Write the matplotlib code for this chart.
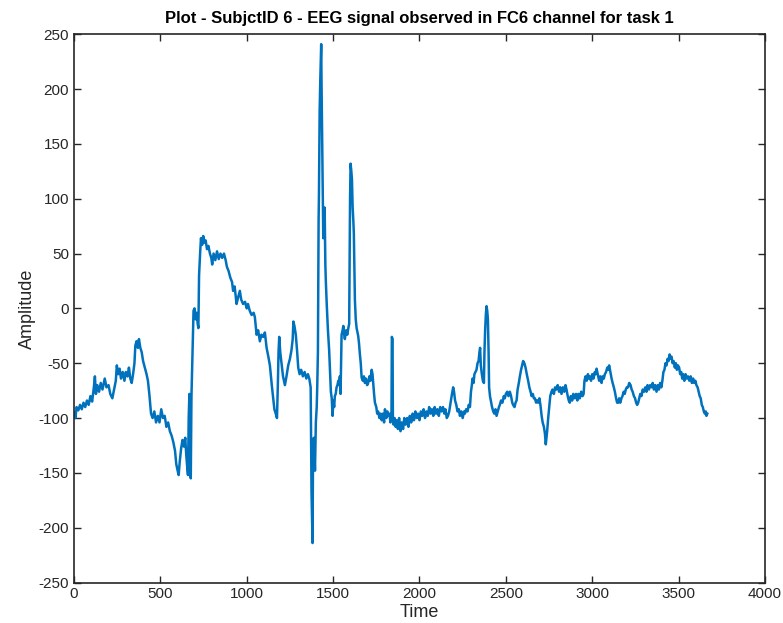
import matplotlib
matplotlib.use("Agg")
import matplotlib.pyplot as plt

plt.rcParams['font.family'] = ['Liberation Sans Narrow', 'Liberation Sans', 'DejaVu Sans']
plt.rcParams['axes.unicode_minus'] = False

# samples (FC6 channel, subject 6, task 1)
time = [
    0, 8, 15, 25, 35, 45, 55, 65, 75, 85, 95, 105, 115, 121, 127, 135, 145, 155, 165, 178,
    188, 200, 210, 222, 232, 242, 248, 256, 264, 272, 282, 292, 300, 310, 318, 326, 334, 342, 350, 355,
    362, 370, 376, 384, 392, 400, 410, 420, 428, 436, 446, 455, 465, 475, 485, 495, 505, 515, 525, 535,
    545, 555, 565, 575, 585, 592, 600, 606, 612, 620, 628, 636, 644, 650, 656, 660, 664, 668, 672, 676,
    680, 684, 688, 692, 698, 704, 710, 716, 720, 724, 730, 735, 742, 748, 755, 762, 770, 778, 787, 795,
    800, 808, 818, 828, 838, 848, 858, 868, 878, 885, 895, 905, 915, 921, 930, 941, 950, 960, 968, 979,
    990, 1000, 1007, 1017, 1028, 1040, 1047, 1057, 1066, 1076, 1085, 1095, 1105, 1115, 1125, 1134, 1145, 1153, 1160, 1168,
    1175, 1180, 1184, 1188, 1194, 1201, 1210, 1221, 1230, 1240, 1250, 1259, 1266, 1270, 1276, 1284, 1292, 1298, 1306, 1315,
    1325, 1335, 1345, 1354, 1362, 1370, 1375, 1381, 1384, 1389, 1395, 1400, 1405, 1408, 1412, 1416, 1418, 1422, 1426, 1431,
    1433, 1437, 1440, 1443, 1447, 1451, 1455, 1458, 1463, 1470, 1477, 1482, 1487, 1492, 1497, 1501, 1506, 1510, 1515, 1520,
    1525, 1530, 1535, 1539, 1543, 1547, 1549, 1555, 1559, 1564, 1568, 1575, 1582, 1588, 1593, 1598, 1601, 1605, 1609, 1613,
    1617, 1620, 1624, 1626, 1631, 1636, 1641, 1645, 1650, 1655, 1660, 1665, 1672, 1678, 1684, 1690, 1697, 1703, 1710, 1716,
    1723, 1728, 1732, 1737, 1742, 1750, 1755, 1761, 1768, 1775, 1781, 1788, 1795, 1800, 1808, 1814, 1819, 1826, 1832, 1838,
    1840, 1844, 1846, 1850, 1856, 1862, 1868, 1875, 1882, 1890, 1897, 1905, 1912, 1920, 1928, 1936, 1944, 1952, 1960, 1968,
    1976, 1984, 1992, 2000, 2008, 2016, 2024, 2032, 2040, 2048, 2056, 2064, 2072, 2080, 2088, 2096, 2104, 2112, 2120, 2128,
    2136, 2144, 2150, 2158, 2165, 2172, 2180, 2188, 2195, 2200, 2206, 2213, 2220, 2228, 2234, 2242, 2250, 2258, 2263, 2270,
    2278, 2285, 2292, 2298, 2303, 2307, 2313, 2318, 2324, 2330, 2336, 2342, 2347, 2351, 2355, 2361, 2367, 2373, 2376, 2380,
    2384, 2388, 2392, 2396, 2400, 2403, 2408, 2413, 2420, 2427, 2433, 2440, 2446, 2453, 2460, 2465, 2472, 2480, 2488, 2494,
    2500, 2508, 2515, 2523, 2530, 2537, 2542, 2550, 2556, 2562, 2568, 2575, 2581, 2588, 2594, 2600, 2607, 2614, 2621, 2629,
    2636, 2643, 2649, 2656, 2662, 2668, 2675, 2681, 2687, 2694, 2700, 2707, 2713, 2720, 2726, 2731, 2735, 2739, 2745, 2751,
    2757, 2764, 2770, 2778, 2785, 2793, 2800, 2808, 2815, 2822, 2830, 2838, 2845, 2851, 2858, 2864, 2870, 2876, 2884, 2890,
    2899, 2906, 2914, 2920, 2928, 2936, 2944, 2950, 2955, 2961, 2968, 2975, 2980, 2986, 2993, 3000, 3007, 3015, 3020, 3025,
    3032, 3040, 3047, 3054, 3060, 3067, 3073, 3080, 3087, 3092, 3098, 3105, 3112, 3118, 3125, 3131, 3138, 3144, 3150, 3156,
    3162, 3169, 3175, 3182, 3188, 3194, 3200, 3207, 3214, 3222, 3228, 3234, 3241, 3248, 3254, 3260, 3266, 3272, 3278, 3285,
    3292, 3300, 3307, 3314, 3320, 3328, 3335, 3343, 3350, 3357, 3365, 3372, 3380, 3386, 3393, 3400, 3406, 3412, 3418, 3424,
    3430, 3436, 3442, 3448, 3453, 3459, 3465, 3471, 3478, 3484, 3490, 3496, 3503, 3509, 3515, 3521, 3526, 3533, 3540, 3547,
    3555, 3562, 3570, 3577, 3584, 3590, 3597, 3603, 3610, 3616, 3622, 3628, 3634, 3640, 3646, 3652, 3657, 3661, 3666,
]

amplitude = [
    -95, -100, -90, -93, -88, -92, -86, -90, -84, -88, -80, -85, -72, -62, -78, -70, -76, -68, -74, -64,
    -72, -70, -78, -82, -74, -66, -52, -60, -55, -64, -58, -66, -58, -62, -54, -64, -68, -60, -50, -34,
    -30, -36, -28, -36, -40, -48, -54, -60, -66, -78, -96, -100, -94, -104, -98, -104, -92, -100, -98, -108,
    -104, -112, -116, -122, -130, -142, -148, -152, -140, -128, -120, -126, -118, -134, -146, -152, -100, -78, -150, -155,
    -80, -55, -30, -2, 0, -10, -4, -14, -18, 30, 50, 64, 58, 66, 60, 62, 54, 57, 50, 46,
    40, 50, 44, 52, 45, 50, 46, 50, 44, 38, 34, 28, 24, 16, 20, 4, 10, 16, 8, 4,
    6, 0, 4, -2, -6, -4, -8, -24, -20, -30, -24, -26, -22, -36, -44, -52, -70, -82, -92, -96,
    -100, -70, -40, -26, -40, -50, -62, -70, -62, -52, -46, -38, -28, -12, -16, -24, -40, -54, -60, -56,
    -62, -58, -64, -60, -64, -72, -168, -214, -120, -118, -148, -104, -90, -72, -40, 80, 104, 180, 210, 241,
    205, 150, 110, 64, 88, 92, 40, 24, 4, -20, -38, -58, -76, -82, -98, -84, -90, -80, -78, -72,
    -70, -66, -70, -62, -78, -40, -24, -20, -16, -24, -28, -20, -24, -18, -14, 100, 132, 126, 118, 92,
    80, 68, 30, 8, -10, -18, -22, -25, -32, -42, -50, -63, -66, -62, -68, -64, -70, -68, -62, -66,
    -56, -60, -68, -78, -86, -90, -96, -94, -100, -96, -102, -96, -104, -92, -100, -94, -98, -96, -104, -94,
    -26, -28, -100, -106, -100, -108, -102, -110, -100, -112, -104, -110, -100, -106, -100, -108, -98, -104, -96, -102,
    -94, -100, -96, -102, -94, -98, -92, -100, -94, -98, -90, -96, -92, -98, -90, -96, -92, -98, -90, -94,
    -90, -96, -92, -100, -98, -94, -86, -78, -72, -76, -84, -88, -94, -92, -98, -94, -100, -94, -96, -92,
    -94, -88, -90, -76, -70, -64, -68, -60, -58, -56, -50, -48, -40, -36, -52, -60, -66, -68, -40, -20,
    -6, 2, -2, -10, -40, -72, -80, -84, -90, -94, -96, -92, -98, -94, -90, -88, -84, -86, -80, -82,
    -78, -76, -80, -76, -80, -86, -88, -90, -86, -84, -74, -68, -62, -56, -52, -48, -50, -54, -60, -66,
    -72, -76, -80, -78, -82, -82, -86, -84, -86, -82, -88, -98, -104, -108, -114, -124, -118, -112, -100, -90,
    -80, -76, -74, -78, -72, -74, -70, -76, -72, -78, -72, -76, -70, -74, -80, -84, -86, -80, -84, -78,
    -82, -78, -84, -78, -82, -76, -80, -78, -66, -62, -66, -60, -64, -62, -66, -60, -64, -58, -60, -55,
    -60, -66, -62, -68, -62, -64, -60, -58, -54, -56, -52, -58, -64, -68, -72, -76, -82, -86, -86, -82,
    -86, -82, -80, -76, -78, -74, -72, -72, -68, -70, -74, -76, -80, -82, -86, -88, -86, -82, -78, -80,
    -74, -76, -72, -76, -70, -74, -70, -72, -68, -74, -70, -76, -70, -74, -68, -72, -66, -58, -56, -50,
    -52, -46, -48, -42, -46, -44, -50, -48, -54, -50, -56, -52, -54, -60, -58, -64, -60, -66, -60, -64,
    -62, -66, -62, -68, -64, -68, -66, -70, -72, -76, -80, -82, -88, -90, -94, -96, -94, -98, -96,
]

x_ticks = [0, 500, 1000, 1500, 2000, 2500, 3000, 3500, 4000]
y_ticks = [-250, -200, -150, -100, -50, 0, 50, 100, 150, 200, 250]

fig = plt.figure(figsize=(7.83, 6.23), dpi=100)
ax = fig.add_axes([0.0945, 0.065, 0.8825, 0.88])

ax.plot(time, amplitude, color='#0072BD', linewidth=1.8)

ax.set_xlim(0, 4000)
ax.set_ylim(-250, 250)
ax.set_xticks(x_ticks)
ax.set_yticks(y_ticks)
ax.tick_params(direction='in', top=True, right=True, length=5, width=1,
               labelsize=11, colors='#262626')
for s in ax.spines.values():
    s.set_linewidth(1.2)
    s.set_color('#262626')

ax.set_xlabel('Time', fontsize=13, color='#262626', labelpad=2)
ax.set_ylabel('Amplitude', fontsize=13, color='#262626', labelpad=2)
ax.set_title('Plot - SubjctID 6 - EEG signal observed in FC6 channel for task 1',
             fontsize=12, fontweight='bold', pad=8)

fig.savefig('out.png', dpi=100)
